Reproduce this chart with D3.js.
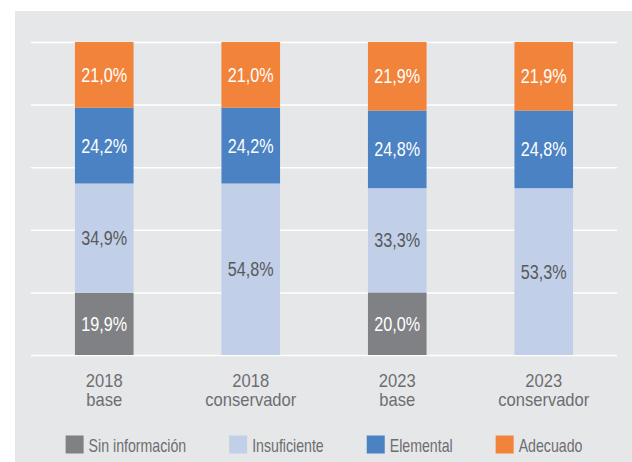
<!DOCTYPE html>
<html>
<head>
<meta charset="utf-8">
<script src="https://cdn.jsdelivr.net/npm/d3@7"></script>
<style>
  html, body { margin: 0; padding: 0; background: #ffffff; }
  svg { display: block; }
  text { font-family: "Liberation Sans", Arial, sans-serif; }
</style>
</head>
<body>
<svg id="chart" width="632" height="462"></svg>
<script>
// Scenario categories (two text lines each)
const categories = ["2018 base", "2018 conservador", "2023 base", "2023 conservador"];
const categoryLines = [["2018", "base"], ["2018", "conservador"], ["2023", "base"], ["2023", "conservador"]];

// Performance levels, stacked bottom to top
const levels = ["Sin información", "Insuficiente", "Elemental", "Adecuado"];
const sinInformacion = [19.9, 0, 20.0, 0];
const insuficiente   = [34.9, 54.8, 33.3, 53.3];
const elemental      = [24.2, 24.2, 24.8, 24.8];
const adecuado       = [21.0, 21.0, 21.9, 21.9];

const yTicks = [0, 20, 40, 60, 80, 100];

const colors = ["#808184", "#c1cfe8", "#4a82c3", "#f2833a"];
const labelColors = ["#ffffff", "#58595b", "#ffffff", "#ffffff"];

const rows = categories.map((c, i) => ({
  category: c,
  "Sin información": sinInformacion[i],
  "Insuficiente": insuficiente[i],
  "Elemental": elemental[i],
  "Adecuado": adecuado[i]
}));

// condensed type: regular face squeezed horizontally
const squeeze = (sel, px, py, k) => sel.attr("transform", `translate(${px},${py}) scale(${k},1)`);

const svg = d3.select("#chart");

// panel background
svg.append("rect")
  .attr("x", 15).attr("y", 11)
  .attr("width", 617).attr("height", 451)
  .attr("fill", "#e6e7e8");

const plot = { left: 31, right: 617, top: 42, bottom: 355 };

const x = d3.scaleBand()
  .domain(categories)
  .range([plot.left, plot.right])
  .paddingInner(0.6)
  .paddingOuter(0.3);

const y = d3.scaleLinear()
  .domain([0, 100])
  .range([plot.bottom, plot.top]);

// horizontal gridlines
const grid = svg.append("g")
  .attr("transform", `translate(${plot.left},0)`)
  .call(d3.axisLeft(y).tickValues(yTicks).tickSize(-(plot.right - plot.left)).tickFormat(""));
grid.select(".domain").remove();
grid.selectAll(".tick line").attr("stroke", "#ffffff").attr("stroke-width", 1.5);

const series = d3.stack().keys(levels)(rows);

const fmt = v => d3.format(".1f")(v).replace(".", ",") + "%";

svg.append("g").selectAll("g")
  .data(series)
  .join("g")
  .attr("fill", (d, i) => colors[i])
  .selectAll("rect")
  .data(d => d)
  .join("rect")
  .attr("x", p => x(p.data.category))
  .attr("width", x.bandwidth())
  .attr("y", p => y(p[1]))
  .attr("height", p => y(p[0]) - y(p[1]));

// value labels
series.forEach((s, li) => {
  svg.append("g").selectAll("text")
    .data(s.filter(p => p.data[s.key] > 0))
    .join("text")
    .each(function (p) {
      squeeze(d3.select(this), x(p.data.category) + x.bandwidth() / 2, (y(p[0]) + y(p[1])) / 2, 0.83);
    })
    .attr("dy", "0.36em")
    .attr("text-anchor", "middle")
    .attr("font-size", 19.5)
    .attr("fill", labelColors[li])
    .text(p => fmt(p.data[s.key]));
});

// category labels
const xAxis = svg.append("g");
categories.forEach((c, i) => {
  const t = xAxis.append("text")
    .attr("text-anchor", "middle")
    .attr("font-size", 18.6)
    .attr("fill", "#6d6e71");
  squeeze(t, x(c) + x.bandwidth() / 2, 387, 0.89);
  categoryLines[i].forEach((line, j) => {
    t.append("tspan")
      .attr("x", 0)
      .attr("y", j * 19.5)
      .text(line);
  });
});

// legend
const legendScale = 0.8;
const legend = svg.append("g");
const items = levels.map((lv, i) => {
  const g = legend.append("g");
  g.append("rect").attr("width", 18).attr("height", 18).attr("y", 435.5).attr("fill", colors[i]);
  const t = g.append("text")
    .attr("font-size", 17.7)
    .attr("fill", "#6d6e71")
    .text(lv);
  squeeze(t, 23, 452, legendScale);
  return { g, w: 23 + t.node().getComputedTextLength() * legendScale };
});
const gap = 43;
const total = d3.sum(items, d => d.w) + gap * (items.length - 1);
let cx = (plot.left + plot.right) / 2 - total / 2;
items.forEach(it => {
  it.g.attr("transform", `translate(${cx},0)`);
  cx += it.w + gap;
});
</script>
</body>
</html>
